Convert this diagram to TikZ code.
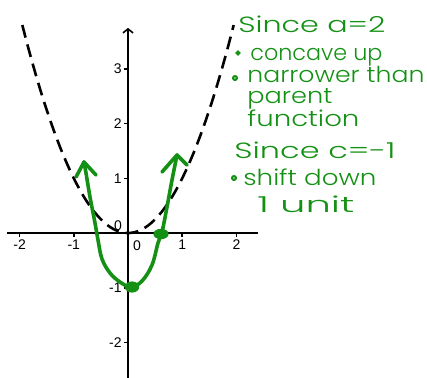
\documentclass[tikz,border=0pt]{standalone}
\usepackage{fontspec}
\setmainfont{Liberation Sans}
\newfontfamily\hand{Poppins Light}
\usetikzlibrary{arrows.meta}
\definecolor{pen}{RGB}{20,145,20}
\begin{document}
\begin{tikzpicture}[x=0.5pt,y=-0.5pt,
  axis/.style={line width=1pt,black},
  tickline/.style={line width=0.8pt,black},
  ticklab/.style={font=\fontsize{7}{8}\selectfont,inner sep=0pt},
  parab/.style={line width=1.3pt,dash pattern=on 6.5pt off 3.5pt},
  penline/.style={pen,line width=1.8pt,line cap=round,line join=round},
  note/.style={pen,font=\hand\fontsize{11}{13}\selectfont,anchor=base west,inner sep=0pt},
  bul/.style={draw=pen,fill=pen!60,line width=0.8pt},
  dot/.style={fill=pen,draw=none}]
\useasboundingbox (0,0) rectangle (427,377);
\clip (0,0) rectangle (427,377);
\begin{scope}[shift={(128,233)},x=27.1pt,y=27.35pt]
  \coordinate (xl) at (-2.23,0);
  \coordinate (xr) at (2.4,0);
  \coordinate (yb) at (0,-2.8);
  \coordinate (yt) at (0,3.75);
  \draw[axis] (xl) -- (xr);
  \draw[axis,-{Straight Barb[length=2pt,width=5pt,line width=0.8pt]}] (yb) -- (yt);
  \foreach \x in {-2,-1,1,2} \draw[tickline] (\x,0) -- ++(0pt,-2pt);
  \foreach \y in {-2,-1,1,2,3} \draw[tickline] (0,\y) -- ++(-2pt,0pt);
  \node[ticklab] (lxa) at (-2,-0.22) {-2};
  \node[ticklab] (lxb) at (-1,-0.22) {-1};
  \node[ticklab] (lxc) at (1,-0.22) {1};
  \node[ticklab] (lxd) at (2,-0.22) {2};
  \node[ticklab] (lx0) at (0.166,-0.238) {0};
  \node[ticklab] (ly0) at (-0.185,0.128) {0};
  \node[ticklab,anchor=east] (lya) at (-0.11,3) {3};
  \node[ticklab,anchor=east] (lyb) at (-0.11,2) {2};
  \node[ticklab,anchor=east] (lyc) at (-0.11,1) {1};
  \node[ticklab,anchor=east] (lyd) at (-0.11,-1) {-1};
  \node[ticklab,anchor=east] (lye) at (-0.11,-2) {-2};
  \draw[parab] plot[domain=-1.95:1.95,samples=80,smooth] (\x,{\x*\x});
\end{scope}
% hand-drawn parabola
\draw[penline] plot[smooth,tension=0.6] coordinates {(84,162) (86,173) (90,197) (95,223) (98,240) (102,259) (110,273) (120,282) (131,287) (142,281) (152,265) (158,243) (162,232) (167,207) (172,180) (177,155)};
\draw[penline] (76,177) -- (84,162) -- (96,175);
\draw[penline] (162,172) -- (177,155) -- (187,165);
\fill[dot] (132,287) ellipse [x radius=3.6pt,y radius=2.8pt];
\fill[dot] (161,234) ellipse [x radius=3.8pt,y radius=2.6pt];
% notes
\node[note] (n1) at (238,32) {\resizebox{73.5pt}{\height}{Since a=2}};
\draw[bul] (238,53) circle [radius=0.9pt];
\node[note] (n2) at (250,60) {\resizebox{66pt}{\height}{concave up}};
\draw[bul] (235,78) circle [radius=1.1pt];
\node[note] (n3) at (247,82) {\resizebox{88.5pt}{\height}{narrower than}};
\node[note] (n4) at (247,103) {\resizebox{42.5pt}{\height}{parent}};
\node[note] (n5) at (247,126) {\resizebox{56pt}{\height}{function}};
\node[note] (n6) at (234,158) {\resizebox{80.5pt}{\height}{Since c=-1}};
\draw[bul] (234,178) circle [radius=1.1pt];
\node[note] (n7) at (243,185) {\resizebox{66.5pt}{\height}{shift down}};
\node[note] (n8) at (257,212) {\resizebox{48.5pt}{\height}{1 unit}};
\end{tikzpicture}
\end{document}
